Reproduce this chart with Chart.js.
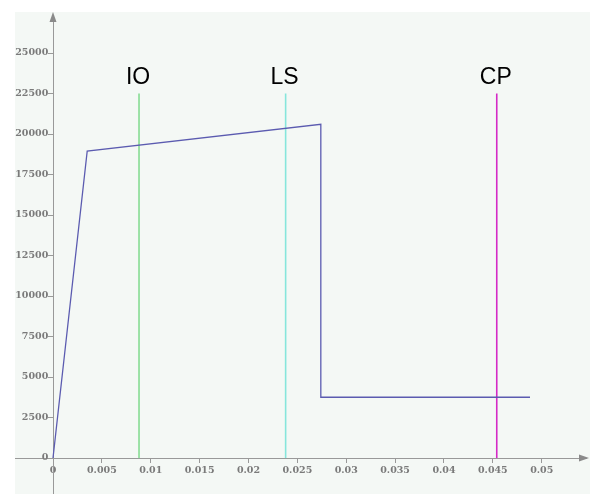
<!DOCTYPE html>
<html>
<head>
<meta charset="utf-8">
<script src="https://cdn.jsdelivr.net/npm/chart.js@4"></script>
<style>
  html, body { margin: 0; padding: 0; background: #ffffff; }
  #wrap { width: 590px; height: 494px; }
</style>
</head>
<body>
<div id="wrap"><canvas id="courbe" width="590" height="494"></canvas></div>
<script>
// courbe force / déplacement
const courbeX = [0, 0.0035, 0.0274, 0.0274, 0.0488];
const courbeY = [0, 18950, 20600, 3750, 3750];

// niveaux de performance
const niveaux = ['IO', 'LS', 'CP'];
const niveauxX = [0.0088, 0.0238, 0.0454];
const niveauxHaut = 22500;
const niveauxCouleurs = ['#86dc93', '#86e6dc', '#d52ac6'];

// graduations
const ticksX = [0, 0.005, 0.01, 0.015, 0.02, 0.025, 0.03, 0.035, 0.04, 0.045, 0.05];
const labelsX = ['0', '0.005', '0.01', '0.015', '0.02', '0.025', '0.03', '0.035', '0.04', '0.045', '0.05'];
const ticksY = [0, 2500, 5000, 7500, 10000, 12500, 15000, 17500, 20000, 22500, 25000];
const labelsY = ['0', '2500', '5000', '7500', '10000', '12500', '15000', '17500', '20000', '22500', '25000'];

const tickFont = { family: 'DejaVu Serif', size: 9.5, weight: 'bold' };

const datasets = [{
    data: courbeX.map((x, i) => ({ x, y: courbeY[i] })),
    borderColor: '#5b5bb0',
    borderWidth: 1.3,
    pointRadius: 0,
    showLine: true,
    tension: 0
}];
niveaux.forEach((n, i) => {
    datasets.push({
        data: [{ x: niveauxX[i], y: 0 }, { x: niveauxX[i], y: niveauxHaut }],
        borderColor: niveauxCouleurs[i],
        borderWidth: 1.6,
        pointRadius: 0,
        showLine: true
    });
});

// les axes placés au milieu ne doivent pas prendre de place
const sansPlace = s => {
    s.paddingLeft = s.paddingRight = s.paddingTop = s.paddingBottom = 0;
    if (s.isHorizontal()) s.height = 0; else s.width = 0;
};

// fond + flèches + noms des niveaux
const decor = {
    id: 'decor',
    beforeDraw(chart) {
        const c = chart.ctx;
        c.save();
        c.fillStyle = '#f4f8f5';
        c.fillRect(15, 12, chart.width - 15, chart.height - 12);
        c.restore();
    },
    afterDraw(chart) {
        const c = chart.ctx;
        const sx = chart.scales.x, sy = chart.scales.y;
        const x0 = sx.getPixelForValue(0), y0 = sy.getPixelForValue(0);
        const a = chart.chartArea;
        c.save();
        c.fillStyle = '#8a8a8a';
        c.beginPath();
        c.moveTo(x0, a.top - 3);
        c.lineTo(x0 - 3.5, a.top + 7);
        c.lineTo(x0 + 3.5, a.top + 7);
        c.closePath();
        c.fill();
        c.beginPath();
        c.moveTo(a.right + 3, y0);
        c.lineTo(a.right - 7, y0 - 3.5);
        c.lineTo(a.right - 7, y0 + 3.5);
        c.closePath();
        c.fill();

        c.fillStyle = '#000';
        c.font = '23px "Liberation Sans", Arial, sans-serif';
        c.textAlign = 'center';
        c.textBaseline = 'alphabetic';
        niveaux.forEach((n, i) => {
            c.fillText(n, sx.getPixelForValue(niveauxX[i]) - 1, sy.getPixelForValue(niveauxHaut) - 10);
        });
        c.restore();
    }
};

new Chart(document.getElementById('courbe'), {
    type: 'scatter',
    data: { datasets },
    options: {
        responsive: false,
        animation: false,
        layout: { padding: { left: 15, top: 15, right: 4, bottom: 0 } },
        plugins: { legend: { display: false }, tooltip: { enabled: false } },
        scales: {
            x: {
                type: 'linear',
                position: { y: 0 },
                min: -0.003888,
                max: 0.05453,
                afterFit: sansPlace,
                afterBuildTicks: s => { s.ticks = ticksX.map(v => ({ value: v })); },
                grid: { drawOnChartArea: false, drawTicks: true, tickLength: 4, color: '#999' },
                border: { display: true, color: '#999', width: 1 },
                ticks: {
                    font: tickFont,
                    color: '#7a7a7a',
                    padding: 3,
                    maxRotation: 0,
                    autoSkip: false,
                    callback: (v) => labelsX[ticksX.indexOf(v)]
                }
            },
            y: {
                type: 'linear',
                position: { x: 0 },
                min: -2222,
                max: 27346,
                afterFit: sansPlace,
                afterBuildTicks: s => { s.ticks = ticksY.map(v => ({ value: v })); },
                grid: { drawOnChartArea: false, drawTicks: true, tickLength: 5, color: '#999' },
                border: { display: true, color: '#999', width: 1 },
                ticks: {
                    font: tickFont,
                    color: '#7a7a7a',
                    autoSkip: false,
                    // l'étiquette est alignée sur l'axe : on laisse un espace pour la graduation
                    callback: (v) => labelsY[ticksY.indexOf(v)] + '\u2002'
                }
            }
        }
    },
    plugins: [decor]
});
</script>
</body>
</html>
